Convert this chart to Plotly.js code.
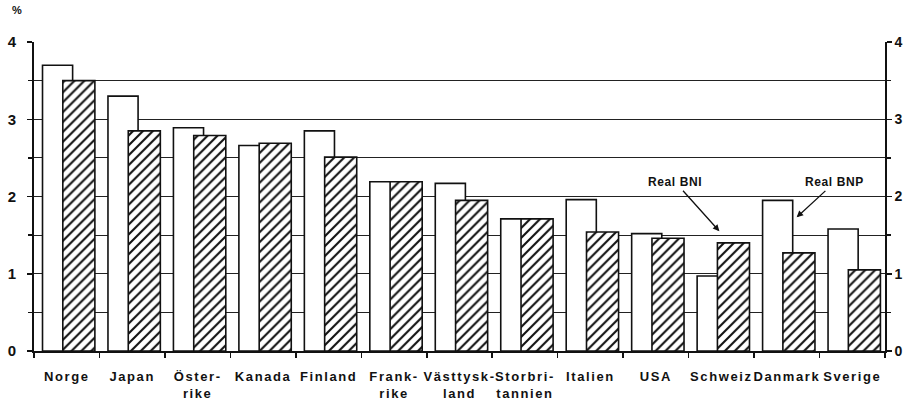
<!DOCTYPE html>
<html><head><meta charset="utf-8">
<script src="https://cdn.plot.ly/plotly-3.0.1.min.js"></script>
<style>html,body{margin:0;padding:0;background:#fff}#chart{width:905px;height:404px}
.xtick text{letter-spacing:1.6px}
.annotation-text{letter-spacing:0.6px}
</style>
</head><body><div id="chart"></div>
<script>
var categories = ["Norge","Japan","Öster-<br>rike","Kanada","Finland","Frank-<br>rike","Västtysk-<br>land","Storbri-<br>tannien","Italien","USA","Schweiz","Danmark","Sverige"];
var realBNP = [3.70, 3.30, 2.89, 2.66, 2.85, 2.19, 2.17, 1.71, 1.96, 1.52, 0.97, 1.95, 1.58];
var realBNI = [3.50, 2.85, 2.79, 2.69, 2.51, 2.19, 1.95, 1.71, 1.54, 1.46, 1.40, 1.27, 1.05];
var yTicks = [0, 1, 2, 3, 4];

var fam = "Liberation Sans, Arial, sans-serif";

var traces = [
  {type: "bar", x: categories, y: realBNP, name: "Real BNP",
   offset: -0.37, width: 0.46,
   marker: {color: "#fff", line: {color: "#111", width: 1.6}}},
  {type: "bar", x: categories, y: realBNI, name: "Real BNI",
   offset: -0.06, width: 0.49,
   marker: {color: "#fff", line: {color: "#111", width: 1.6},
            pattern: {shape: "/", fgcolor: "#111", bgcolor: "#fff", size: 7, solidity: 0.3}}},
  {type: "scatter", x: [categories[0]], y: [0], yaxis: "y2", mode: "markers",
   marker: {opacity: 0}, hoverinfo: "skip", showlegend: false}
];

var layout = {
  width: 905, height: 404,
  margin: {l: 34, r: 20, t: 42, b: 53},
  paper_bgcolor: "#fff", plot_bgcolor: "#fff",
  barmode: "overlay", showlegend: false,
  font: {family: fam, size: 12, color: "#111"},
  xaxis: {type: "category", range: [-0.5, 12.5], automargin: false, showline: true, linecolor: "#111", linewidth: 2,
          ticks: "outside", tickson: "boundaries", ticklen: 5, tickwidth: 1.5, tickcolor: "#111",
          ticklabelstandoff: 12,
          showgrid: false, tickfont: {family: fam, size: 13, color: "#111", weight: "bold"},
          tickangle: 0},
  yaxis: {range: [0, 4], automargin: false, tickvals: yTicks, ticktext: yTicks.map(String),
          showline: true, linecolor: "#111", linewidth: 1.8,
          ticks: "outside", ticklen: 5, tickwidth: 1.5, tickcolor: "#111",
          ticklabelstandoff: 8,
          showgrid: true, gridcolor: "#222", gridwidth: 1.2, zeroline: false,
          minor: {dtick: 0.5, showgrid: true, gridcolor: "#222", gridwidth: 1.2, ticks: "outside", ticklen: 4, tickcolor: "#111"},
          tickfont: {family: fam, size: 15, color: "#111", weight: "bold"}},
  yaxis2: {range: [0, 4], automargin: false, overlaying: "y", side: "right", tickvals: yTicks, ticktext: yTicks.map(String),
          showline: true, linecolor: "#111", linewidth: 1.8,
          ticks: "outside", ticklen: 5, tickwidth: 1.5, tickcolor: "#111",
          showgrid: false, zeroline: false,
          minor: {dtick: 0.5, ticks: "outside", ticklen: 4, tickcolor: "#111"},
          tickfont: {family: fam, size: 14, color: "#111", weight: "bold"}},
  annotations: [
    {xref: "paper", yref: "paper", x: -0.028, y: 1.13, text: "%", showarrow: false,
     font: {family: fam, size: 11, color: "#111", weight: "bold"}},
    {x: 9.97, y: 1.55, xref: "x", yref: "y", text: "Real BNI", showarrow: true,
     ax: -44, ay: -49, arrowhead: 2, arrowsize: 1, arrowwidth: 1.3, arrowcolor: "#111",
     bgcolor: "#fff", font: {family: fam, size: 12, color: "#111", weight: "bold"}},
    {x: 11.15, y: 1.73, xref: "x", yref: "y", text: "Real BNP", showarrow: true,
     ax: 38, ay: -35, arrowhead: 2, arrowsize: 1, arrowwidth: 1.3, arrowcolor: "#111",
     bgcolor: "#fff", font: {family: fam, size: 12, color: "#111", weight: "bold"}}
  ]
};

Plotly.newPlot("chart", traces, layout, {displayModeBar: false, staticPlot: true});
</script>
</body></html>
